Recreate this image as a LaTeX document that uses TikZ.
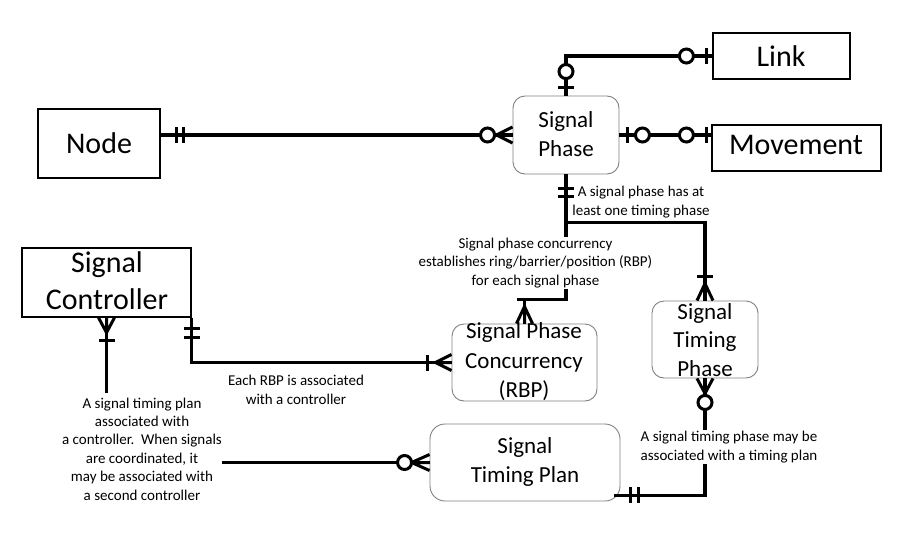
\documentclass[tikz,border=0pt]{standalone}
\usepackage{fontspec}
\setmainfont{Carlito}
\usetikzlibrary{calc}
\begin{document}
\begin{tikzpicture}[x=1pt,y=-1pt,
  ent/.style={draw=black,line width=1.2pt,fill=white,inner sep=0pt},
  rbox/.style={draw=black!50,line width=0.9pt,rounded corners=12pt,fill=white,inner sep=0pt},
  bigtxt/.style={font=\fontsize{30}{37}\selectfont,align=center,inner sep=0pt},
  midtxt/.style={font=\fontsize{23}{28.5}\selectfont,align=center,inner sep=0pt},
  notetxt/.style={font=\fontsize{15}{18.4}\selectfont,align=center,inner sep=1pt,fill=white},
  conn/.style={line width=3.2pt},
  sym/.style={line width=3pt},
  pics/erbar/.style={code={\draw[sym] (#1,-8) -- (#1,8);}},
  pics/ero/.style={code={\draw[sym,fill=white] (#1,0) circle[radius=7];}},
  pics/ercrow/.style={code={\draw[sym] (0,-8) -- (#1,0) -- (0,8) (0,0) -- (#1,0);}}
]
\useasboundingbox (0,0) rectangle (902,533);

% entity boxes
\node[ent,minimum width=122pt,minimum height=69pt] (Node) at (99,143.5) {};
\node[ent,minimum width=137pt,minimum height=46pt] (Link) at (781.5,56) {};
\node[ent,minimum width=169pt,minimum height=46pt] (Movement) at (796.5,148) {};
\node[ent,minimum width=169pt,minimum height=69pt] (SC) at (106.5,282.5) {};
\node[rbox,minimum width=106pt,minimum height=78pt] (SP) at (566,135) {};
\node[rbox,minimum width=145pt,minimum height=77pt] (SPC) at (524.5,362.5) {};
\node[rbox,minimum width=106pt,minimum height=77pt] (STP) at (705,339.5) {};
\node[rbox,rounded corners=15pt,minimum width=190pt,minimum height=77pt] (STPlan) at (525,462.5) {};

% connectors
\draw[conn] (SP.west -| Node.east) -- (SP.west);
\draw[conn] (SP.north) |- (Link.west);
\draw[conn] (SP.east) -- (SP.east -| Movement.west);
\draw[conn] (SP.south) -- ++(0,48) -| (STP.north);
\draw[conn] (SP.south) -- ($(SP.south |- SPC.north)+(0,-24)$) -| (SPC.north);
\draw[conn] (STP.south) |- ($(STPlan.south east)+(-6,-6)$);
\draw[conn] (SC.south east) |- (SPC.west);

% notes
\node[notetxt] (n1) at (641,202) {A signal phase has at\\least one timing phase};
\node[notetxt] (n2) at (535.5,263) {Signal phase concurrency\\establishes ring/barrier/position (RBP)\\for each signal phase};
\node[notetxt] (n3) at (296,390) {Each RBP is associated\\with a controller};
\node[notetxt,inner sep=0pt] (n4) at (142,449) {A signal timing plan\\associated with\\a controller.\ \ When signals\\are coordinated, it\\may be associated with\\a second controller};
\node[notetxt] (n5) at (729,447) {A signal timing phase may be\\associated with a timing plan};

\draw[conn] (SC.south) -- ++(0,75);
\draw[conn] (n4.east |- STPlan.west) -- (STPlan.west);

% endings
\pic at (SP.west -| Node.east) {erbar=16};
\pic at (SP.west -| Node.east) {erbar=23};
\pic[rotate=180] at (SP.west) {ercrow=16};
\pic[rotate=180] at (SP.west) {ero=25};

\pic[rotate=90] at (SP.north) {erbar=8};
\pic[rotate=90] at (SP.north) {ero=24};
\pic[rotate=180] at (Link.west) {erbar=6};
\pic[rotate=180] at (Link.west) {ero=26};

\pic at (SP.east) {erbar=8};
\pic at (SP.east) {ero=23};
\pic[rotate=180] at (SP.east -| Movement.west) {erbar=5};
\pic[rotate=180] at (SP.east -| Movement.west) {ero=25};

\pic[rotate=-90] at (SP.south) {erbar=14};
\pic[rotate=-90] at (SP.south) {erbar=22};
\pic[rotate=90] at (STP.north) {ercrow=17};
\pic[rotate=90] at (STP.north) {erbar=24};

\pic[rotate=90] at (SPC.north) {ercrow=17};
\pic[rotate=90] at (SPC.north) {erbar=24};

\pic[rotate=-90] at (STP.south) {ercrow=15};
\pic[rotate=-90] at (STP.south) {ero=24};
\pic at ($(STPlan.south east)+(-6,-6)$) {erbar=16};
\pic at ($(STPlan.south east)+(-6,-6)$) {erbar=24};

\pic[rotate=-90] at (SC.south east) {erbar=11};
\pic[rotate=-90] at (SC.south east) {erbar=20};
\pic[rotate=180] at (SPC.west) {ercrow=16};
\pic[rotate=180] at (SPC.west) {erbar=24};

\pic[rotate=-90] at (SC.south) {ercrow=15};
\pic[rotate=-90] at (SC.south) {erbar=23};
\pic[rotate=180] at (STPlan.west) {ercrow=18};
\pic[rotate=180] at (STPlan.west) {ero=25};

% box texts
\node[bigtxt] (Nodet) at (99,143) {Node};
\node[bigtxt] (Linkt) at (781,56.5) {Link};
\node[bigtxt] (Movementt) at (796,145) {Movement};
\node[bigtxt] (SCt) at (107,281) {Signal\\Controller};
\node[midtxt] (SPt) at (566,134) {Signal\\Phase};
\node[midtxt,font=\fontsize{23}{29.5}\selectfont] (SPCt) at (524,362) {Signal Phase\\Concurrency\\(RBP)};
\node[midtxt] (STPt) at (705,340) {Signal\\Timing\\Phase};
\node[midtxt] (STPlant) at (525,462) {Signal\\Timing Plan};
\end{tikzpicture}
\end{document}
